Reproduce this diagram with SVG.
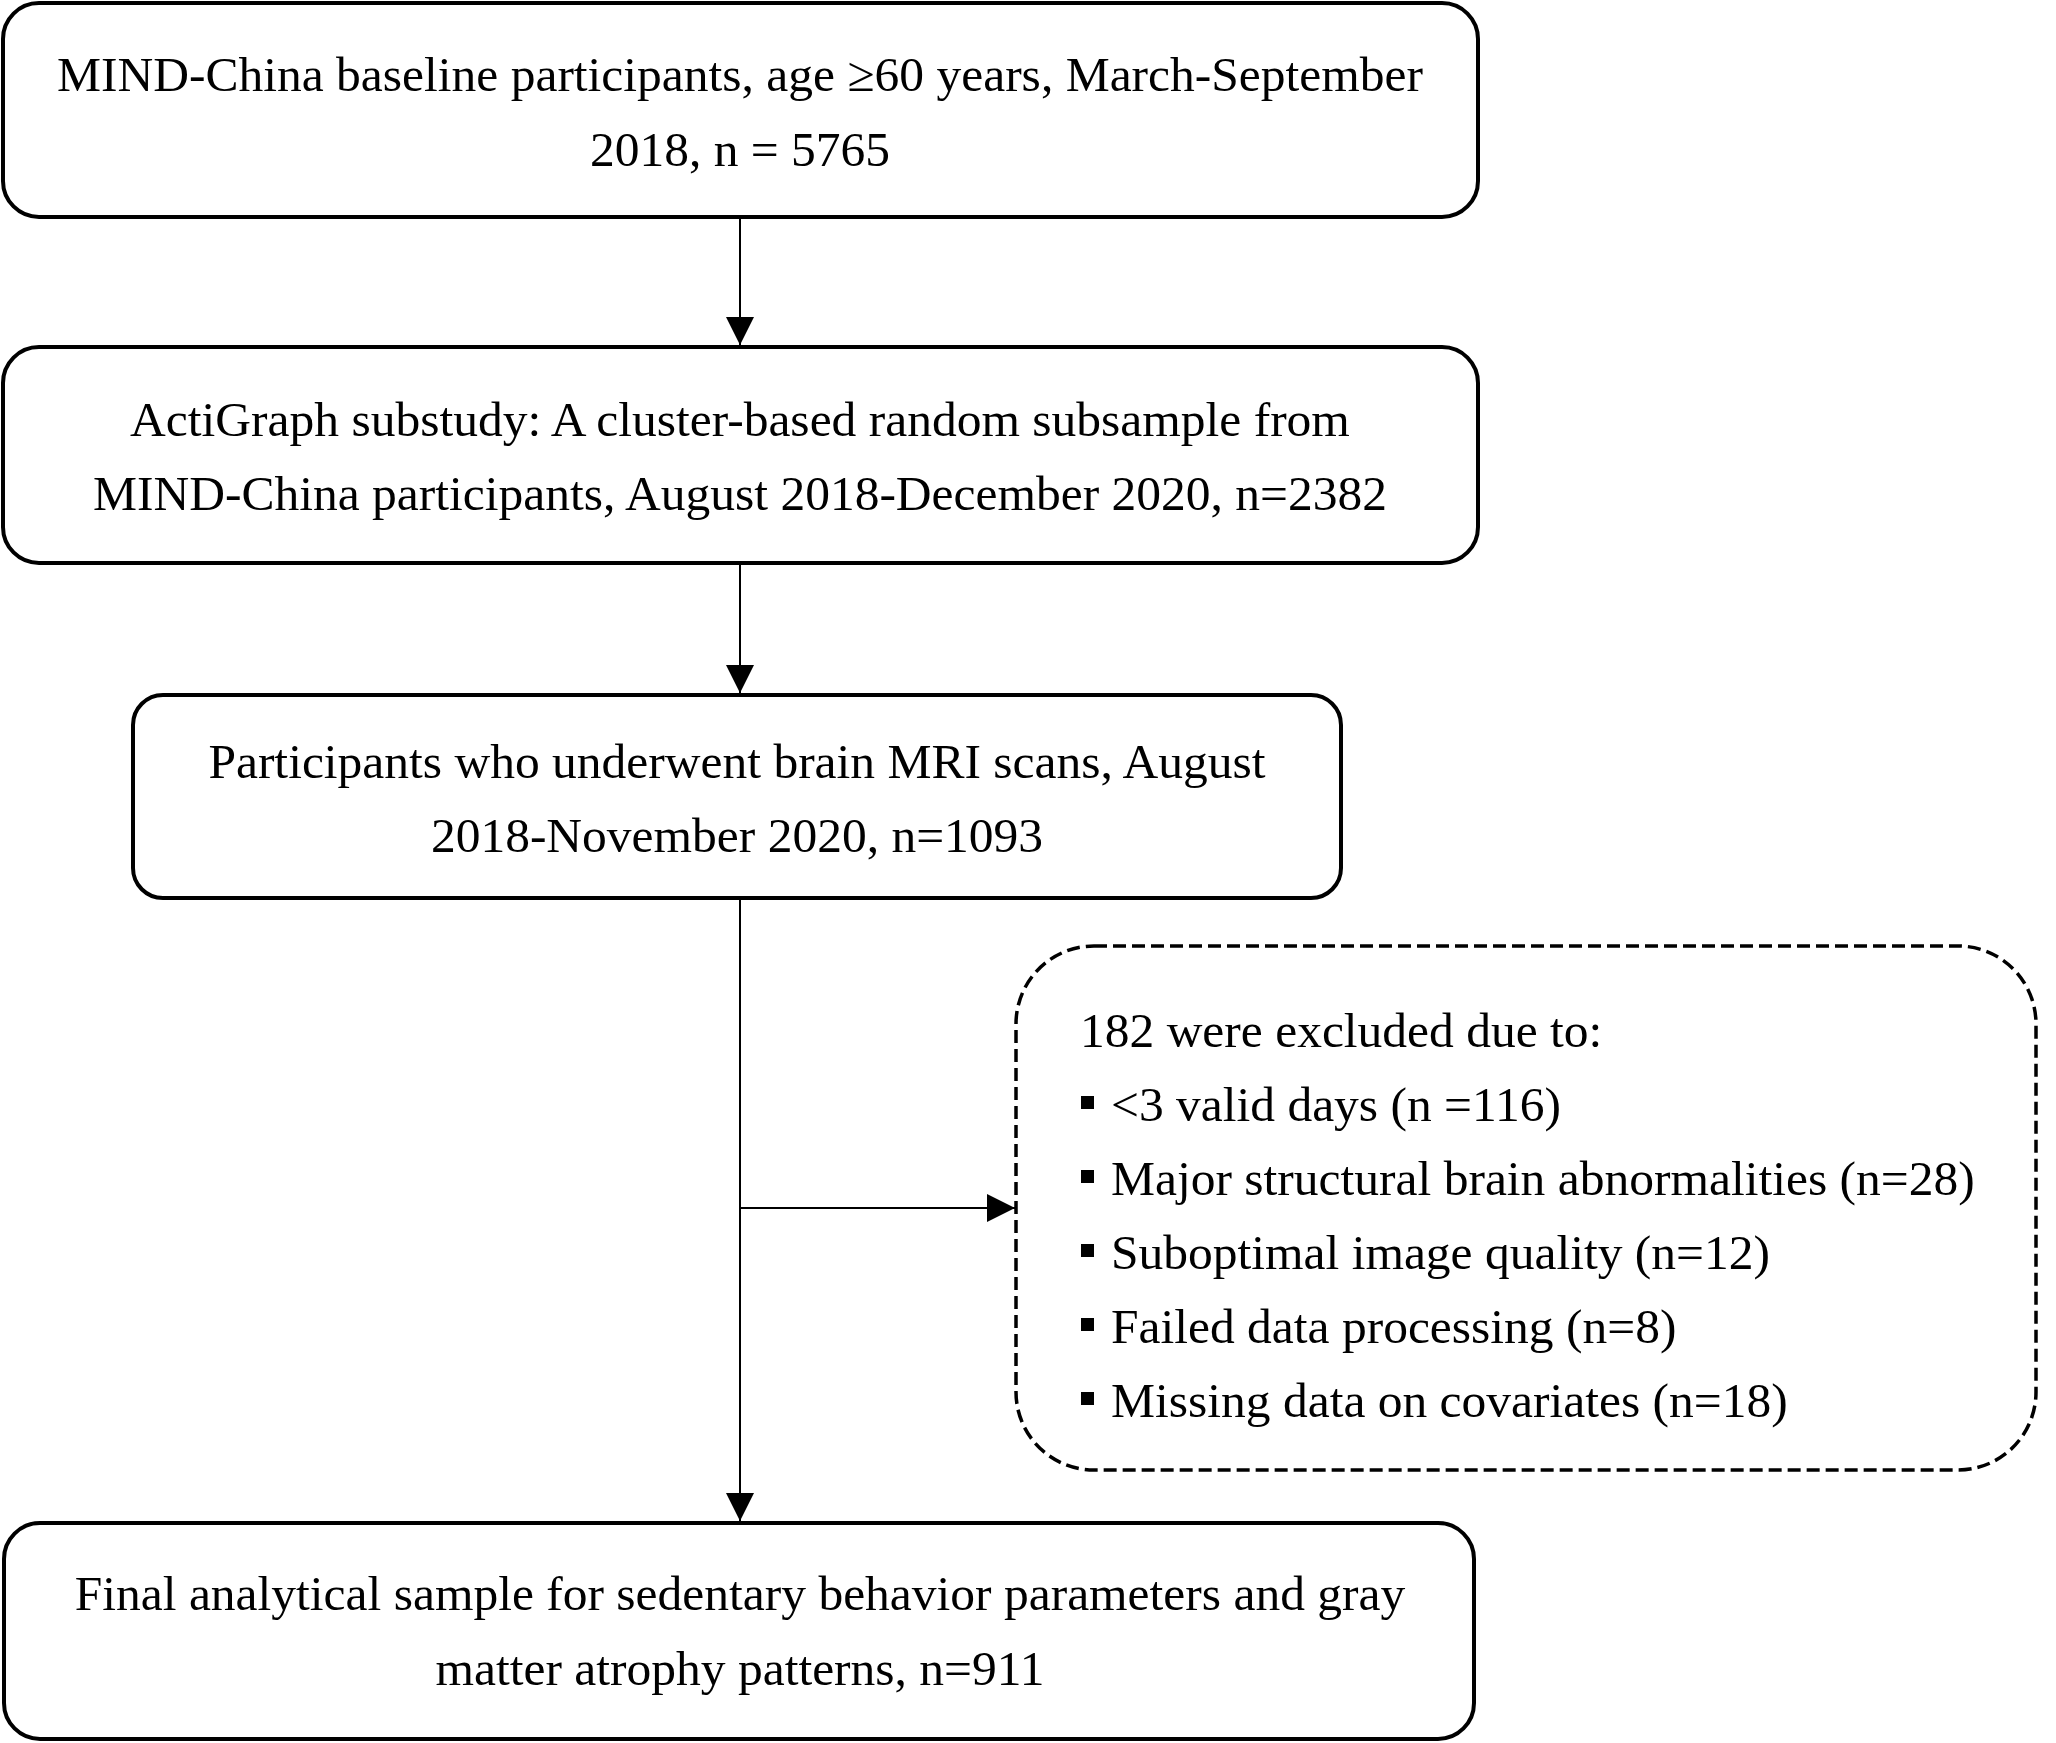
<svg xmlns="http://www.w3.org/2000/svg" width="2056" height="1743" viewBox="0 0 2056 1743">
<style>
.box{fill:#fff;stroke:#000;stroke-width:4}
.dbox{fill:#fff;stroke:#000;stroke-width:3.5;stroke-dasharray:13 6}
.t{font-family:"Liberation Serif","Times New Roman",serif;font-size:49.5px;fill:#000}
.c{text-anchor:middle}
.conn{stroke:#000;stroke-width:2;fill:none}
</style>
<defs>
<marker id="ah" markerUnits="userSpaceOnUse" markerWidth="30" markerHeight="28" refX="28" refY="14" orient="auto">
<path d="M0,0 L28,14 L0,28 Z" fill="#000"/>
</marker>
</defs>
<rect width="2056" height="1743" fill="#fff"/>
<g id="connectors">
<line class="conn" x1="740" y1="217" x2="740" y2="345" marker-end="url(#ah)"/>
<line class="conn" x1="740" y1="563" x2="740" y2="693" marker-end="url(#ah)"/>
<line class="conn" x1="740" y1="898" x2="740" y2="1521" marker-end="url(#ah)"/>
<line class="conn" x1="740" y1="1208" x2="1015" y2="1208" marker-end="url(#ah)"/>
</g>
<g id="n1">
<rect class="box" x="3" y="3" width="1475" height="214" rx="36" ry="36"/>
<text class="t c" x="740" y="91">MIND-China baseline participants, age ≥60 years, March-September</text>
<text class="t c" x="740" y="166">2018, n = 5765</text>
</g>
<g id="n2">
<rect class="box" x="3" y="347" width="1475" height="216" rx="36" ry="36"/>
<text class="t c" x="740" y="436">ActiGraph substudy: A cluster-based random subsample from</text>
<text class="t c" x="740" y="510">MIND-China participants, August 2018-December 2020, n=2382</text>
</g>
<g id="n3">
<rect class="box" x="133" y="695" width="1208" height="203" rx="30" ry="30"/>
<text class="t c" x="737" y="778">Participants who underwent brain MRI scans, August</text>
<text class="t c" x="737" y="852">2018-November 2020, n=1093</text>
</g>
<g id="n4">
<rect class="dbox" x="1016" y="946" width="1020" height="524" rx="78" ry="78"/>
<text class="t" x="1080" y="1047">182 were excluded due to:</text>
<rect x="1081" y="1096" width="13" height="13" fill="#000"/>
<text class="t" x="1111" y="1121">&lt;3 valid days (n =116)</text>
<rect x="1081" y="1170" width="13" height="13" fill="#000"/>
<text class="t" x="1111" y="1195">Major structural brain abnormalities (n=28)</text>
<rect x="1081" y="1244" width="13" height="13" fill="#000"/>
<text class="t" x="1111" y="1269">Suboptimal image quality (n=12)</text>
<rect x="1081" y="1318" width="13" height="13" fill="#000"/>
<text class="t" x="1111" y="1343">Failed data processing (n=8)</text>
<rect x="1081" y="1392" width="13" height="13" fill="#000"/>
<text class="t" x="1111" y="1417">Missing data on covariates (n=18)</text>
</g>
<g id="n5">
<rect class="box" x="4" y="1523" width="1470" height="216" rx="36" ry="36"/>
<text class="t c" x="740" y="1610">Final analytical sample for sedentary behavior parameters and gray</text>
<text class="t c" x="740" y="1685">matter atrophy patterns, n=911</text>
</g>
</svg>
